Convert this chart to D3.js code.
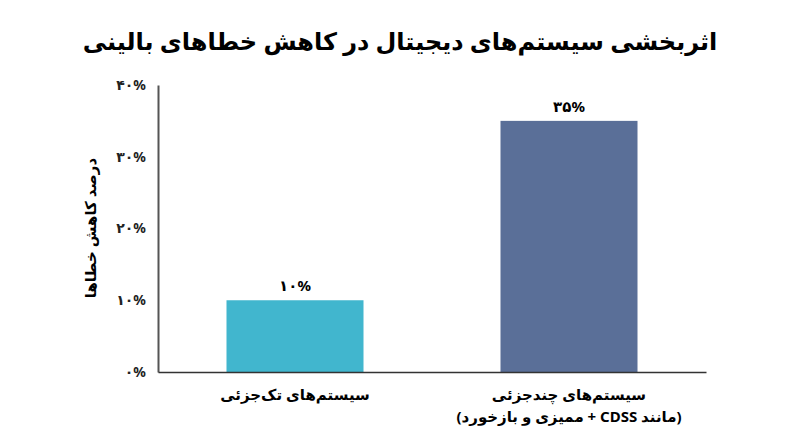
<!DOCTYPE html>
<html><head><meta charset="utf-8">
<script src="https://cdn.jsdelivr.net/npm/d3@7"></script>
<style>body{margin:0;background:#fff}text{font-family:"Noto Sans","DejaVu Sans",sans-serif}</style>
</head><body><svg id="c" width="800" height="447"></svg>
<script>
var categories = [["سیستم‌های تک‌جزئی"], ["سیستم‌های چندجزئی", "(مانند CDSS + ممیزی و بازخورد)"]];
var values = [10, 35];
var colors = ["#41b6ce", "#5a6f98"];
var ticks = [0, 10, 20, 30, 40];

var fa = function (n) { return String(n).replace(/\d/g, function (d) { return "۰۱۲۳۴۵۶۷۸۹"[d]; }) + "%"; };

var svg = d3.select("#c");
var mLeft = 158, mRight = 706, mTop = 85, mBottom = 372;
var x = d3.scaleBand().domain([0, 1]).range([mLeft, mRight]).paddingInner(0.5).paddingOuter(0.25);
var y = d3.scaleLinear().domain([0, 40]).range([mBottom, mTop]);

svg.append("text").attr("x", 400).attr("y", 50).attr("text-anchor", "middle")
  .attr("font-size", 24).attr("font-weight", "bold").attr("direction", "rtl")
  .text("اثربخشی سیستم‌های دیجیتال در کاهش خطاهای بالینی");

svg.selectAll("rect").data(values).enter().append("rect")
  .attr("x", function (d, i) { return x(i); }).attr("width", x.bandwidth())
  .attr("y", function (d) { return y(d); }).attr("height", function (d) { return mBottom - y(d); })
  .attr("fill", function (d, i) { return colors[i]; });

svg.selectAll(".val").data(values).enter().append("text")
  .attr("x", function (d, i) { return x(i) + x.bandwidth() / 2; })
  .attr("y", function (d) { return y(d) - 9; })
  .attr("text-anchor", "middle").attr("font-size", 15).attr("font-weight", "bold")
  .text(fa);

var yg = svg.append("g").attr("transform", "translate(" + mLeft + ",0)")
  .call(d3.axisLeft(y).tickValues(ticks).tickSize(0).tickPadding(12).tickFormat(fa));
yg.select(".domain").attr("stroke", "#555").attr("stroke-width", 2);
yg.selectAll("text").attr("font-size", 14).attr("font-weight", "bold").attr("fill", "#222");

var xg = svg.append("g").attr("transform", "translate(0," + mBottom + ")")
  .call(d3.axisBottom(x).tickSize(0).tickFormat(""));
xg.select(".domain").attr("stroke", "#333").attr("stroke-width", 1.5);

categories.forEach(function (lines, i) {
  lines.forEach(function (l, j) {
    svg.append("text").attr("x", x(i) + x.bandwidth() / 2).attr("y", 400 + j * 22)
      .attr("text-anchor", "middle").attr("font-size", 15).attr("font-weight", "bold")
      .attr("direction", "rtl").text(l);
  });
});

svg.append("text").attr("transform", "translate(96,228) rotate(-90)")
  .attr("text-anchor", "middle").attr("font-size", 15).attr("font-weight", "bold")
  .attr("direction", "rtl").text("درصد کاهش خطاها");
</script></body></html>
